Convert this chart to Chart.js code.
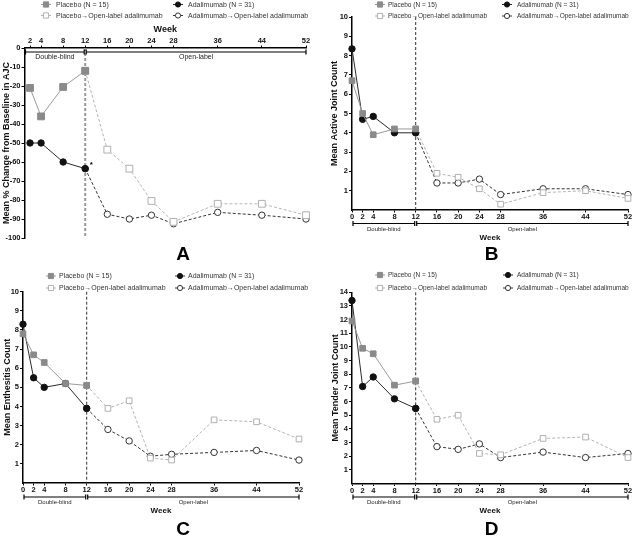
<!DOCTYPE html>
<html>
<head>
<meta charset="utf-8">
<script src="https://cdn.jsdelivr.net/npm/chart.js@4"></script>
<style>
    body { margin: 0; background: #fff; width: 635px; height: 538px; position: relative; overflow: hidden; }
    canvas { position: absolute; }
</style>
</head>
<body>
<canvas id="chartA" width="320" height="269" style="left:0;top:0"></canvas>
<canvas id="chartB" width="315" height="269" style="left:320px;top:0"></canvas>
<canvas id="chartC" width="320" height="269" style="left:0;top:269px"></canvas>
<canvas id="chartD" width="315" height="269" style="left:320px;top:269px"></canvas>
<script>
// weeks
const weeksDB = [0, 2, 4, 8, 12];
const weeksDBA = [2, 4, 8, 12];
const weeksOL = [12, 16, 20, 24, 28, 36, 44, 52];
const weekTicks = [0, 2, 4, 8, 12, 16, 20, 24, 28, 36, 44, 52];
const weekTicksA = [2, 4, 8, 12, 16, 20, 24, 28, 36, 44, 52];

// A: mean % change from baseline in AJC
const placeboA = [-21, -36, -20.5, -12];
const adaA = [-50, -50, -60, -63.5];
const placeboOLA = [-12, -53.5, -63.5, -80.5, -91.5, -82, -82, -88];
const adaOLA = [-63.5, -87.5, -90, -88, -92.5, -86.5, -88, -90];

// B: mean active joint count
const placeboB = [6.7, 5.0, 3.9, 4.2, 4.2];
const adaB = [8.35, 4.7, 4.85, 4.0, 4.0];
const placeboOLB = [4.2, 1.9, 1.7, 1.1, 0.3, 0.9, 1.0, 0.6];
const adaOLB = [4.0, 1.4, 1.4, 1.6, 0.8, 1.1, 1.1, 0.8];

// C: mean enthesitis count
const placeboC = [7.8, 6.7, 6.3, 5.2, 5.1];
const adaC = [8.3, 5.5, 5.0, 5.2, 3.9];
const placeboOLC = [5.1, 3.9, 4.3, 1.3, 1.2, 3.3, 3.2, 2.3];
const adaOLC = [3.9, 2.8, 2.2, 1.4, 1.5, 1.6, 1.7, 1.2];

// D: mean tender joint count
const placeboD = [11.9, 9.9, 9.5, 7.2, 7.5];
const adaD = [13.4, 7.1, 7.8, 6.2, 5.5];
const placeboOLD = [7.5, 4.7, 5.0, 2.2, 2.1, 3.3, 3.4, 1.9];
const adaOLD = [5.5, 2.7, 2.5, 2.9, 1.9, 2.3, 1.9, 2.2];

const legendLabels = ['Placebo (N = 15)', 'Adalimumab (N = 31)', 'Placebo\u2192Open-label adalimumab', 'Adalimumab\u2192Open-label adalimumab'];

const styles = [
    { line: '#9a9a9a', border: '#8a8a8a', fill: '#8a8a8a', dash: [], shape: 'rect' },
    { line: '#2a2a2a', border: '#111', fill: '#111', dash: [], shape: 'circle' },
    { line: '#b4b4b4', border: '#b0b0b0', fill: '#fff', dash: [3, 2], shape: 'rect' },
    { line: '#333', border: '#333', fill: '#fff', dash: [3, 2], shape: 'circle' }
];

const FONT = '"Liberation Sans", Arial, sans-serif';

function makeDataset(weeks, values, st, rectR) {
    return {
        data: weeks.map((w, i) => ({ x: w, y: values[i] })),
        borderColor: st.line,
        borderWidth: 1,
        borderDash: st.dash,
        backgroundColor: st.fill,
        pointStyle: st.shape === 'rect' ? 'rect' : 'circle',
        pointRadius: st.shape === 'rect' ? rectR : 3.2,
        pointBackgroundColor: st.fill,
        pointBorderColor: st.border,
        pointBorderWidth: 1,
        tension: 0,
        clip: false
    };
}

function drawMarker(ctx, st, x, y, r) {
    ctx.save();
    ctx.setLineDash([]);
    ctx.fillStyle = st.fill;
    ctx.strokeStyle = st.border;
    ctx.lineWidth = 1;
    ctx.beginPath();
    if (st.shape === 'rect') ctx.rect(x - r, y - r, 2 * r, 2 * r);
    else ctx.arc(x, y, r, 0, Math.PI * 2);
    ctx.fill();
    ctx.stroke();
    ctx.restore();
}

const decorPlugin = {
    id: 'decor',
    beforeDatasetsDraw(chart, args, o) {
        const ctx = chart.ctx;
        const a = chart.chartArea;
        const x12 = chart.scales.x.getPixelForValue(12);
        ctx.save();
        ctx.strokeStyle = o.vColor;
        ctx.lineWidth = o.vWidth;
        ctx.setLineDash([3, 2]);
        ctx.beginPath();
        ctx.moveTo(x12, a.top);
        ctx.lineTo(x12, a.bottom);
        ctx.stroke();
        ctx.restore();
    },
    afterDraw(chart, args, o) {
        const ctx = chart.ctx;
        const a = chart.chartArea;
        const xs = chart.scales.x;
        ctx.save();

        // legend
        ctx.font = o.legendSize + 'px ' + FONT;
        ctx.textBaseline = 'middle';
        ctx.textAlign = 'left';
        legendLabels.forEach((label, i) => {
            const st = styles[i];
            const mx = o.legendX[i % 2];
            const ty = o.legendY[Math.floor(i / 2)];
            ctx.strokeStyle = st.line;
            ctx.lineWidth = 1;
            ctx.setLineDash([]);
            ctx.beginPath();
            ctx.moveTo(mx - 5, ty);
            ctx.lineTo(mx + 5, ty);
            ctx.stroke();
            drawMarker(ctx, st, mx, ty, 2.6);
            ctx.fillStyle = '#333';
            ctx.fillText(label, o.legendTextX[i % 2], ty + 0.5);
        });

        // period brackets
        const xStart = xs.getPixelForValue(xs.min) + 1;
        const x12 = xs.getPixelForValue(12);
        const x52 = xs.getPixelForValue(52);
        ctx.strokeStyle = '#000';
        ctx.lineWidth = 1.2;
        ctx.setLineDash([]);
        const by = o.bracketY;
        [[xStart, x12 - 1, 'Double-blind'], [x12 + 1, x52, 'Open-label']].forEach(([x0, x1, label]) => {
            ctx.beginPath();
            ctx.moveTo(x0, by); ctx.lineTo(x1, by);
            ctx.moveTo(x0, by - 2.5); ctx.lineTo(x0, by + 2.5);
            ctx.moveTo(x1, by - 2.5); ctx.lineTo(x1, by + 2.5);
            ctx.stroke();
            ctx.fillStyle = '#222';
            ctx.font = o.bracketSize + 'px ' + FONT;
            ctx.textAlign = 'center';
            ctx.fillText(label, (x0 + x1) / 2, o.bracketTextY);
        });

        // x title
        ctx.fillStyle = '#111';
        ctx.font = 'bold ' + o.weekSize + 'px ' + FONT;
        ctx.textAlign = 'center';
        ctx.fillText('Week', (a.left + a.right) / 2, o.weekY);

        // y title
        ctx.save();
        ctx.translate(o.yTitleX, (a.top + a.bottom) / 2);
        ctx.rotate(-Math.PI / 2);
        ctx.font = 'bold 9px ' + FONT;
        ctx.fillText(o.yTitle, 0, 0);
        ctx.restore();

        // panel letter
        ctx.font = 'bold 19px ' + FONT;
        ctx.fillStyle = '#000';
        ctx.fillText(o.letter, o.letterX, o.letterY);

        // significance marker
        if (o.star) {
            ctx.font = 'bold 8px ' + FONT;
            ctx.fillText('*', x12 + 6, chart.scales.y.getPixelForValue(o.star) - 4);
        }
        ctx.restore();
    }
};

function buildChart(id, cfg) {
    const tickFont = { family: FONT, size: 7.5, weight: 'bold' };
    new Chart(document.getElementById(id), {
        type: 'line',
        data: { datasets: cfg.datasets },
        plugins: [decorPlugin],
        options: {
            responsive: false,
            animation: false,
            layout: { padding: cfg.padding },
            plugins: {
                legend: { display: false },
                tooltip: { enabled: false },
                decor: cfg.decor
            },
            scales: {
                x: {
                    type: 'linear',
                    position: cfg.xTop ? 'top' : 'bottom',
                    min: cfg.xMin,
                    max: 52,
                    afterBuildTicks: s => { s.ticks = cfg.xTicks.map(v => ({ value: v })); },
                    afterFit: s => { s.height = cfg.xHeight; },
                    ticks: { font: tickFont, color: '#111', padding: 0, maxRotation: 0, autoSkip: false },
                    grid: { drawOnChartArea: false, tickLength: 2.5, color: '#000' },
                    border: { color: '#000', width: 1.5 }
                },
                y: {
                    min: cfg.yMin,
                    max: cfg.yMax,
                    afterBuildTicks: s => {
                        const t = [];
                        for (let v = cfg.yMin; v <= cfg.yMax + 1e-9; v += cfg.yStep) {
                            if (cfg.yHideZero && v === 0) continue;
                            t.push({ value: v });
                        }
                        s.ticks = t;
                    },
                    afterFit: s => { s.width = cfg.yWidth; },
                    ticks: { font: tickFont, color: '#111', padding: 1 },
                    grid: { drawOnChartArea: false, tickLength: 3, color: '#000' },
                    border: { color: '#000', width: 1.5 }
                }
            }
        }
    });
}

buildChart('chartA', {
    datasets: [
        makeDataset(weeksDBA, placeboA, styles[0], 4.8),
        makeDataset(weeksDBA, adaA, styles[1], 4.8),
        makeDataset(weeksOL, placeboOLA, styles[2], 4.8),
        makeDataset(weeksOL, adaOLA, styles[3], 4.8)
    ],
    xTop: true, xMin: 1, xTicks: weekTicksA, xHeight: 28,
    yMin: -100, yMax: 0, yStep: 10, yHideZero: false, yWidth: 24.5,
    padding: { left: 0, right: 14, top: 20, bottom: 31 },
    decor: {
        vColor: '#9a9a9a', vWidth: 2,
        legendSize: 7, legendX: [46, 178], legendTextX: [56, 188], legendY: [4.5, 15.5],
        bracketY: 52, bracketTextY: 57.5, bracketSize: 7,
        weekSize: 9, weekY: 30,
        yTitle: 'Mean % Change from Baseline in AJC', yTitleX: 7,
        letter: 'A', letterX: 183, letterY: 255,
        star: -63.5
    }
});

buildChart('chartB', {
    datasets: [
        makeDataset(weeksDB, placeboB, styles[0], 4),
        makeDataset(weeksDB, adaB, styles[1], 4),
        makeDataset(weeksOL, placeboOLB, styles[2], 4),
        makeDataset(weeksOL, adaOLB, styles[3], 4)
    ],
    xTop: false, xMin: 0, xTicks: weekTicks, xHeight: 59,
    yMin: 0, yMax: 10, yStep: 1, yHideZero: true, yWidth: 32,
    padding: { left: 0, right: 7, top: 17, bottom: 0 },
    decor: {
        vColor: '#333', vWidth: 1,
        legendSize: 6.5, legendX: [60, 187], legendTextX: [68, 197], legendY: [4.5, 16],
        bracketY: 223.5, bracketTextY: 229, bracketSize: 6,
        weekSize: 8, weekY: 237.5,
        yTitle: 'Mean Active Joint Count', yTitleX: 15,
        letter: 'B', letterX: 171.5, letterY: 255
    }
});

buildChart('chartC', {
    datasets: [
        makeDataset(weeksDB, placeboC, styles[0], 4),
        makeDataset(weeksDB, adaC, styles[1], 4),
        makeDataset(weeksOL, placeboOLC, styles[2], 4),
        makeDataset(weeksOL, adaOLC, styles[3], 4)
    ],
    xTop: false, xMin: 0, xTicks: weekTicks, xHeight: 55,
    yMin: 0, yMax: 10, yStep: 1, yHideZero: true, yWidth: 23,
    padding: { left: 0, right: 21, top: 22.7, bottom: 0 },
    decor: {
        vColor: '#333', vWidth: 1,
        legendSize: 7, legendX: [51, 180], legendTextX: [59, 188], legendY: [7, 19],
        bracketY: 228, bracketTextY: 233.5, bracketSize: 6,
        weekSize: 8, weekY: 242,
        yTitle: 'Mean Enthesitis Count', yTitleX: 7.5,
        letter: 'C', letterX: 183, letterY: 261
    }
});

buildChart('chartD', {
    datasets: [
        makeDataset(weeksDB, placeboD, styles[0], 4),
        makeDataset(weeksDB, adaD, styles[1], 4),
        makeDataset(weeksOL, placeboOLD, styles[2], 4),
        makeDataset(weeksOL, adaOLD, styles[3], 4)
    ],
    xTop: false, xMin: 0, xTicks: weekTicks, xHeight: 54.5,
    yMin: 0, yMax: 14, yStep: 1, yHideZero: true, yWidth: 32,
    padding: { left: 0, right: 7, top: 23.3, bottom: 0 },
    decor: {
        vColor: '#333', vWidth: 1,
        legendSize: 6.5, legendX: [60, 188], legendTextX: [68, 197], legendY: [6, 19],
        bracketY: 228, bracketTextY: 233.5, bracketSize: 6,
        weekSize: 8, weekY: 242,
        yTitle: 'Mean Tender Joint Count', yTitleX: 16,
        letter: 'D', letterX: 171.5, letterY: 261
    }
});
</script>
</body>
</html>
